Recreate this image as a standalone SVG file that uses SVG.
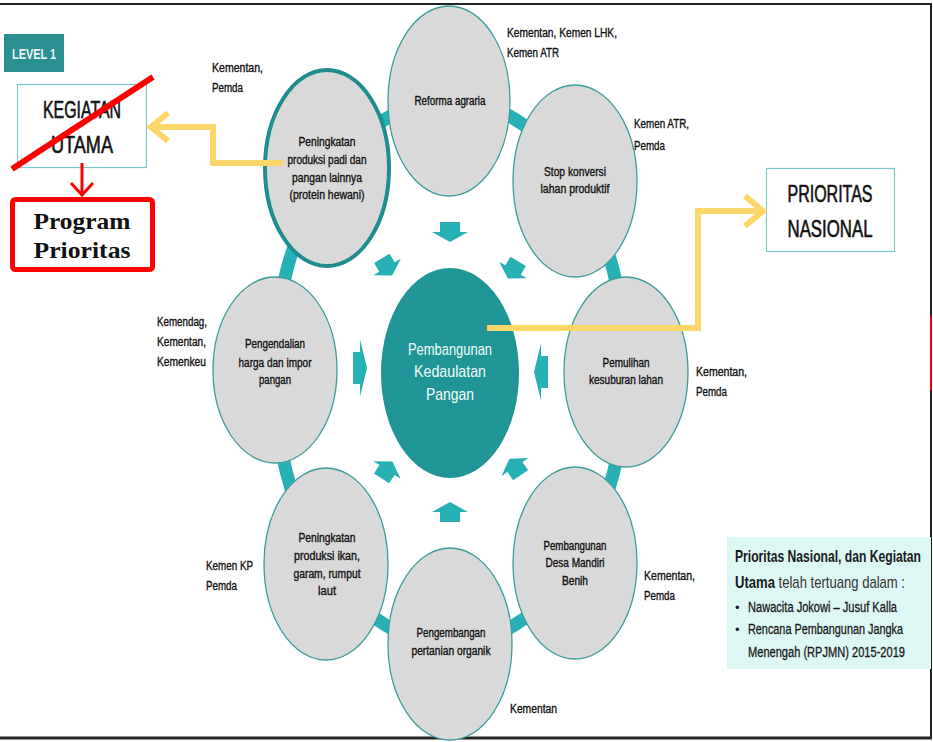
<svg xmlns="http://www.w3.org/2000/svg" width="933" height="742" viewBox="0 0 933 742">
<defs>
<style>
.node{fill:#d9d9d9;stroke:#3f9c9c;stroke-width:1.3}
.nt{font-family:"Liberation Sans Narrow","Liberation Sans",Arial,sans-serif;font-size:12px;fill:#111;stroke:#111;stroke-width:0.35;text-anchor:middle}
.ag{font-family:"Liberation Sans Narrow","Liberation Sans",Arial,sans-serif;font-size:12.5px;fill:#111;stroke:#111;stroke-width:0.35}
.big{font-family:"Liberation Sans Narrow","Liberation Sans",Arial,sans-serif;font-size:23px;fill:#111;stroke:#111;stroke-width:0.6;text-anchor:middle}
.yl{fill:none;stroke:#fdd669;stroke-width:6;stroke-linejoin:miter}
.ar{fill:#27b1b5}
.info{font-family:"Liberation Sans Narrow","Liberation Sans",Arial,sans-serif;fill:#1a1a1a}
</style>
<polygon id="arr" points="-10,-10 0,-10 0,-18 10,0 0,18 0,10 -10,10"/>
</defs>
<rect x="0" y="0" width="933" height="742" fill="#fff"/>
<!-- frame -->
<g id="frame" stroke="#222" fill="none">
<line x1="0" y1="4" x2="932" y2="4" stroke-width="2"/>
<line x1="931" y1="3" x2="931" y2="739" stroke-width="2"/>
<line x1="0" y1="738" x2="932" y2="738" stroke-width="3"/>
<line x1="931" y1="316" x2="931" y2="390" stroke="#f00" stroke-width="2"/>
</g>

<!-- ring -->
<g id="ring">
<ellipse cx="450" cy="372" rx="176" ry="272" fill="none" stroke="#27b1b5" stroke-width="13"/>
</g>

<!-- inward arrows -->
<g id="arrows" class="ar">
<use href="#arr" transform="translate(450,232) rotate(90)"/>
<use href="#arr" transform="translate(450,512) rotate(-90)"/>
<use href="#arr" transform="translate(360,368) scale(0.7,1.6)"/>
<use href="#arr" transform="translate(541,372) rotate(180) scale(0.7,1.6)"/>
<use href="#arr" transform="translate(387,267) rotate(59) scale(1,0.9)"/>
<use href="#arr" transform="translate(513,270) rotate(121) scale(1,0.9)"/>
<use href="#arr" transform="translate(387,470) rotate(-57) scale(1,0.9)"/>
<use href="#arr" transform="translate(515,467) rotate(-124) scale(1,0.9)"/>
</g>

<!-- center -->
<g id="center">
<ellipse cx="450" cy="373" rx="69" ry="105" fill="#1f9597"/>
<text x="450" y="355" text-anchor="middle" style="font-family:'Liberation Sans Narrow','Liberation Sans',sans-serif;font-size:17px;fill:#f4fbfb" textLength="84" lengthAdjust="spacingAndGlyphs">Pembangunan</text>
<text x="450" y="377" text-anchor="middle" style="font-family:'Liberation Sans Narrow','Liberation Sans',sans-serif;font-size:17px;fill:#f4fbfb" textLength="72" lengthAdjust="spacingAndGlyphs">Kedaulatan</text>
<text x="450" y="400" text-anchor="middle" style="font-family:'Liberation Sans Narrow','Liberation Sans',sans-serif;font-size:17px;fill:#f4fbfb" textLength="48" lengthAdjust="spacingAndGlyphs">Pangan</text>
</g>

<!-- nodes -->
<g id="n-reforma">
<ellipse class="node" cx="449" cy="101" rx="61" ry="95"/>
<text class="nt" x="450" y="105" textLength="71" lengthAdjust="spacingAndGlyphs">Reforma agraria</text>
</g>
<g id="n-stop">
<ellipse class="node" cx="575" cy="181" rx="62" ry="96"/>
<text class="nt" x="575" y="176" textLength="62" lengthAdjust="spacingAndGlyphs">Stop konversi</text>
<text class="nt" x="575" y="193" textLength="69" lengthAdjust="spacingAndGlyphs">lahan produktif</text>
</g>
<g id="n-pemulihan">
<ellipse class="node" cx="626" cy="372" rx="62" ry="95"/>
<text class="nt" x="626" y="367" textLength="47" lengthAdjust="spacingAndGlyphs">Pemulihan</text>
<text class="nt" x="626" y="384" textLength="74" lengthAdjust="spacingAndGlyphs">kesuburan lahan</text>
</g>
<g id="n-desa">
<ellipse class="node" cx="575" cy="563" rx="62" ry="96"/>
<text class="nt" x="575" y="550" textLength="63" lengthAdjust="spacingAndGlyphs">Pembangunan</text>
<text class="nt" x="575" y="567" textLength="59" lengthAdjust="spacingAndGlyphs">Desa Mandiri</text>
<text class="nt" x="575" y="585" textLength="26" lengthAdjust="spacingAndGlyphs">Benih</text>
</g>
<g id="n-organik">
<ellipse class="node" cx="450" cy="644" rx="62" ry="96"/>
<text class="nt" x="451" y="637" textLength="69" lengthAdjust="spacingAndGlyphs">Pengembangan</text>
<text class="nt" x="451" y="655" textLength="79" lengthAdjust="spacingAndGlyphs">pertanian organik</text>
</g>
<g id="n-ikan">
<ellipse class="node" cx="326" cy="564" rx="62" ry="96"/>
<text class="nt" x="327" y="542" textLength="57" lengthAdjust="spacingAndGlyphs">Peningkatan</text>
<text class="nt" x="327" y="560" textLength="66" lengthAdjust="spacingAndGlyphs">produksi ikan,</text>
<text class="nt" x="327" y="578" textLength="67" lengthAdjust="spacingAndGlyphs">garam, rumput</text>
<text class="nt" x="327" y="595" textLength="18" lengthAdjust="spacingAndGlyphs">laut</text>
</g>
<g id="n-pengendalian">
<ellipse class="node" cx="275" cy="370" rx="62" ry="93"/>
<text class="nt" x="275" y="348" textLength="60" lengthAdjust="spacingAndGlyphs">Pengendalian</text>
<text class="nt" x="275" y="367" textLength="73" lengthAdjust="spacingAndGlyphs">harga dan impor</text>
<text class="nt" x="275" y="384" textLength="32" lengthAdjust="spacingAndGlyphs">pangan</text>
</g>
<g id="n-padi">
<ellipse cx="327" cy="168" rx="62" ry="98" fill="#d9d9d9" stroke="#1f8d8f" stroke-width="4"/>
<text class="nt" x="327" y="146" textLength="57" lengthAdjust="spacingAndGlyphs">Peningkatan</text>
<text class="nt" x="327" y="164" textLength="79" lengthAdjust="spacingAndGlyphs">produksi padi dan</text>
<text class="nt" x="327" y="182" textLength="70" lengthAdjust="spacingAndGlyphs">pangan lainnya</text>
<text class="nt" x="327" y="199" textLength="75" lengthAdjust="spacingAndGlyphs">(protein hewani)</text>
</g>

<!-- side boxes -->
<g id="level1">
<rect x="4" y="34" width="60" height="38" fill="#2a8f90"/>
<text x="34" y="59" text-anchor="middle" style="font-family:'Liberation Sans Narrow','Liberation Sans',sans-serif;font-size:15px;font-weight:bold;fill:#e8f6f6" textLength="44" lengthAdjust="spacingAndGlyphs">LEVEL 1</text>
</g>
<g id="kegiatan">
<rect x="17.5" y="84.5" width="129" height="83" fill="#fff" stroke="#7cc7c7" stroke-width="1.2"/>
<text class="big" x="82" y="118" textLength="78" lengthAdjust="spacingAndGlyphs">KEGIATAN</text>
<text class="big" x="82" y="153" textLength="62" lengthAdjust="spacingAndGlyphs">UTAMA</text>
</g>
<g id="program">
<rect x="12.5" y="199.5" width="140" height="70" rx="3" fill="#fff" stroke="#ff0000" stroke-width="5"/>
<text x="82" y="229" text-anchor="middle" style="font-family:'Liberation Serif',serif;font-weight:bold;font-size:23px;fill:#111" textLength="97" lengthAdjust="spacingAndGlyphs">Program</text>
<text x="82" y="258" text-anchor="middle" style="font-family:'Liberation Serif',serif;font-weight:bold;font-size:23px;fill:#111" textLength="97" lengthAdjust="spacingAndGlyphs">Prioritas</text>
</g>
<g id="prioritas">
<rect x="766.5" y="168.5" width="128" height="83" fill="#fff" stroke="#7cc7c7" stroke-width="1.2"/>
<text class="big" x="830" y="202" textLength="85" lengthAdjust="spacingAndGlyphs">PRIORITAS</text>
<text class="big" x="830" y="237" textLength="85" lengthAdjust="spacingAndGlyphs">NASIONAL</text>
</g>
<g id="info">
<rect x="727" y="537" width="204" height="132" fill="#ddf7f4"/>
<text class="info" x="735" y="562" style="font-size:17px;font-weight:bold" textLength="186" lengthAdjust="spacingAndGlyphs">Prioritas Nasional, dan Kegiatan</text>
<text class="info" x="735" y="588" style="font-size:17px" textLength="170" lengthAdjust="spacingAndGlyphs"><tspan font-weight="bold">Utama</tspan><tspan fill="#333"> telah tertuang dalam :</tspan></text>
<text class="info" x="735" y="612" style="font-size:13px">•</text>
<text class="info" x="748" y="612" style="font-size:14px;stroke:#1a1a1a;stroke-width:0.3" textLength="149" lengthAdjust="spacingAndGlyphs">Nawacita Jokowi – Jusuf Kalla</text>
<text class="info" x="735" y="634" style="font-size:13px">•</text>
<text class="info" x="748" y="634" style="font-size:14px;stroke:#1a1a1a;stroke-width:0.3" textLength="155" lengthAdjust="spacingAndGlyphs">Rencana Pembangunan Jangka</text>
<text class="info" x="748" y="657" style="font-size:14px;stroke:#1a1a1a;stroke-width:0.3" textLength="157" lengthAdjust="spacingAndGlyphs">Menengah (RPJMN) 2015-2019</text>
</g>

<!-- agency labels -->
<g id="agencies" class="ag">
<text x="212" y="72" textLength="51" lengthAdjust="spacingAndGlyphs">Kementan,</text>
<text x="212" y="92" textLength="31" lengthAdjust="spacingAndGlyphs">Pemda</text>
<text x="507" y="37" textLength="110" lengthAdjust="spacingAndGlyphs">Kementan, Kemen LHK,</text>
<text x="507" y="57" textLength="52" lengthAdjust="spacingAndGlyphs">Kemen ATR</text>
<text x="634" y="128" textLength="55" lengthAdjust="spacingAndGlyphs">Kemen ATR,</text>
<text x="634" y="150" textLength="31" lengthAdjust="spacingAndGlyphs">Pemda</text>
<text x="696" y="376" textLength="51" lengthAdjust="spacingAndGlyphs">Kementan,</text>
<text x="696" y="396" textLength="31" lengthAdjust="spacingAndGlyphs">Pemda</text>
<text x="157" y="326" textLength="50" lengthAdjust="spacingAndGlyphs">Kemendag,</text>
<text x="157" y="346" textLength="49" lengthAdjust="spacingAndGlyphs">Kementan,</text>
<text x="157" y="366" textLength="49" lengthAdjust="spacingAndGlyphs">Kemenkeu</text>
<text x="206" y="570" textLength="47" lengthAdjust="spacingAndGlyphs">Kemen KP</text>
<text x="206" y="590" textLength="31" lengthAdjust="spacingAndGlyphs">Pemda</text>
<text x="644" y="580" textLength="51" lengthAdjust="spacingAndGlyphs">Kementan,</text>
<text x="644" y="600" textLength="31" lengthAdjust="spacingAndGlyphs">Pemda</text>
<text x="510" y="713" textLength="47" lengthAdjust="spacingAndGlyphs">Kementan</text>
</g>

<!-- connectors -->
<g id="connectors">
<polyline class="yl" points="283,163 213,163 213,127 152,127"/>
<polyline class="yl" points="168,113 151,127 168,141"/>
<polyline class="yl" points="487,328 698,328 698,211 762,211"/>
<polyline class="yl" points="745,196 763,211 745,226"/>
<line x1="12" y1="169" x2="153" y2="77" stroke="#ff0000" stroke-width="6"/>
<line x1="82" y1="163" x2="82" y2="195" stroke="#ff0000" stroke-width="3"/>
<polyline points="71,183 82,195 93,183" fill="none" stroke="#ff0000" stroke-width="3"/>
</g>
</svg>
